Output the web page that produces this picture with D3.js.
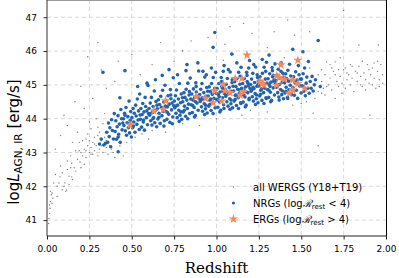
<!DOCTYPE html>
<html>
<head>
<meta charset="utf-8">
<script src="https://cdn.jsdelivr.net/npm/d3@7"></script>
<style>
  body { margin: 0; background: #fff; }
  svg { display: block; }
  .tick text { font-family: "DejaVu Sans", sans-serif; font-size: 9px; fill: #000; }
</style>
</head>
<body>
<svg id="chart" width="399" height="278"></svg>
<script>
// redshift vs log L_AGN,IR  -> [z, logL]
let wergs = [
  [0.01,40.9],[0.012,41.05],[0.015,41.2],[0.018,41.35],[0.02,41.55],[0.025,41.75],[0.02,41.85],[0.03,41.8],[0.015,41.45],[0.035,41.65],
  [0.05,42.35],[0.06,41.7],[0.07,42.1],[0.077,42.28],[0.09,41.9],[0.1,42.0],[0.106,42.1],[0.11,41.85],[0.116,41.89],[0.12,42.5],
  [0.13,42.3],[0.146,42.28],[0.146,42.68],[0.15,42.2],[0.16,42.55],[0.17,42.45],[0.18,42.8],[0.195,42.72],[0.2,42.55],[0.2,43.0],
  [0.21,42.9],[0.22,43.1],[0.23,42.85],[0.24,43.2],[0.25,43.0],[0.25,43.35],[0.26,43.15],[0.27,43.3],[0.28,43.05],[0.28,43.45],
  [0.29,43.2],[0.3,43.5],[0.31,43.1],[0.32,43.35],[0.33,43.0],[0.34,43.45],[0.35,43.15],[0.36,42.95],[0.38,43.1],[0.4,42.85],
  [0.42,43.0],[0.45,42.9],[0.23,43.4],[0.26,42.95],[0.19,43.05],[0.14,42.9],[0.08,42.6],[0.04,42.1],[0.22,42.65],[0.3,42.9],
  [0.05,43.1],[0.08,43.5],[0.1,44.1],[0.12,43.8],[0.165,44.5],[0.2,44.96],[0.24,45.83],[0.3,46.25],[0.32,45.44],[0.15,43.3],
  [0.18,43.6],[0.22,44.3],[0.27,44.6],[0.35,44.9],[0.4,45.1],[0.42,45.7],[0.5,45.9],[0.55,45.3],[0.67,46.25],[0.62,45.6],
  [0.75,45.7],[0.8,46.0],[0.85,46.3],[0.95,46.4],[1.05,46.2],[1.1,45.9],[1.08,46.72],[1.16,46.82],[1.21,46.52],[1.34,46.57],
  [1.42,46.92],[1.46,46.47],[1.55,46.57],[1.04,45.73],[1.27,45.75],[1.3,46.1],[1.4,45.8],[0.6,43.4],[0.7,43.6],[0.9,43.8],
  [1.0,44.0],[1.15,44.1],[1.3,44.2],[1.45,44.4],[1.57,44.16],[1.6,43.2],[1.905,44.1],[1.75,47.2],[1.84,46.18],[1.955,46.18],
  [1.62,45.1],[1.63,44.9],[1.64,45.3],[1.65,45.68],[1.66,45.0],[1.67,45.2],[1.68,44.85],[1.69,45.4],[1.7,45.68],[1.71,45.1],
  [1.72,44.95],[1.73,45.25],[1.74,45.05],[1.75,45.45],[1.76,44.9],[1.77,45.15],[1.78,45.3],[1.79,45.0],[1.8,45.2],[1.81,44.8],
  [1.82,45.4],[1.83,45.1],[1.84,45.55],[1.85,45.25],[1.86,44.95],[1.87,45.35],[1.88,45.15],[1.89,45.6],[1.9,45.05],[1.91,45.3],
  [1.92,45.5],[1.93,45.2],[1.94,44.9],[1.95,45.4],[1.96,45.15],[1.97,45.6],[1.98,45.3],[1.64,44.7],[1.7,44.6],[1.76,45.5],
  [1.86,45.7],[1.92,45.0],[1.68,45.5],[1.74,44.75],[1.8,45.55],[1.88,44.85],[1.95,45.7],[1.62,44.75],[1.58,44.6],[1.55,45.5],
  [0.21,43.35],[0.24,43.55],[0.26,43.7],[0.28,43.25],[0.3,43.75],[0.31,43.6],[0.33,43.85],[0.35,43.35],[0.37,43.2],[0.29,44.0],
  [0.19,43.3],[0.17,43.05],[0.25,43.9],[0.34,44.15],[0.39,43.0],[0.43,43.2],[0.47,43.3],[0.52,43.45],[0.56,43.55],[0.62,43.65],
  [0.12,42.75],[0.09,42.4],[0.06,42.0],[0.13,42.05],[0.03,41.5],[0.14,42.55],[0.23,43.05],[0.27,42.95],[0.32,43.2],[0.36,43.6],
  [1.6,45.3],[1.62,45.45],[1.65,44.95],[1.67,45.6],[1.7,45.3],[1.72,45.45],[1.77,45.35],[1.79,45.6],[1.83,45.35],[1.85,45.0],
  [1.9,45.45],[1.93,45.65],[1.96,44.95],[1.98,45.05],[1.73,45.8],[1.6,44.8],[1.53,44.5],[1.5,44.45],[1.2,44.25],[0.8,43.85]
]

let nrgs = [
  [0.31,43.25],[0.335,43.22],[0.345,43.27],[0.33,45.37],[0.32,43.4],
  [0.352,43.6],[0.358,43.3],[0.363,43.87],[0.367,43.47],[0.371,43.73],[0.376,43.17],[0.381,43.97],[0.386,43.65],[0.392,43.4],[0.397,44.15],
  [0.402,43.62],[0.406,43.94],[0.41,43.39],[0.414,43.76],[0.419,44.09],[0.423,43.54],[0.427,43.84],[0.432,43.3],[0.436,44.27],[0.44,44.0],[0.443,43.67],[0.447,43.87],[0.42,43.46],[0.43,44.62],[0.42,43.02],[0.46,45.42],
  [0.451,44.0],[0.454,43.8],[0.458,44.16],[0.462,43.64],[0.466,44.33],[0.469,43.51],[0.473,43.88],[0.477,44.06],[0.48,43.73],[0.484,44.52],[0.487,43.58],[0.491,43.95],[0.494,44.21],[0.498,43.46],[0.46,44.1],[0.49,43.85],
  [0.501,44.03],[0.505,43.73],[0.508,44.3],[0.512,43.9],[0.515,44.16],[0.519,43.6],[0.523,44.4],[0.526,44.08],[0.53,43.83],[0.533,44.58],[0.537,43.96],[0.54,44.23],[0.544,43.68],[0.547,44.73],[0.549,44.11],[0.51,43.78],[0.535,44.95],
  [0.551,43.98],[0.554,44.3],[0.558,43.75],[0.561,44.12],[0.565,44.45],[0.568,43.9],[0.572,44.2],[0.575,43.66],[0.579,44.63],[0.582,44.36],[0.586,44.03],[0.589,44.23],[0.593,43.82],[0.596,44.98],[0.599,44.15],[0.57,43.96],[0.59,45.05],
  [0.602,44.3],[0.605,44.1],[0.609,44.46],[0.612,43.94],[0.616,44.63],[0.619,43.81],[0.622,44.18],[0.626,44.36],[0.629,44.03],[0.633,44.82],[0.636,43.88],[0.64,44.25],[0.643,44.51],[0.647,43.76],[0.649,44.4],[0.61,44.15],[0.625,44.0],[0.64,45.15],
  [0.651,44.29],[0.654,43.99],[0.657,44.56],[0.661,44.16],[0.664,44.42],[0.668,43.86],[0.671,44.66],[0.675,44.34],[0.678,44.09],[0.682,44.84],[0.685,44.22],[0.689,44.49],[0.692,43.94],[0.696,44.99],[0.699,44.37],[0.66,44.04],[0.68,45.28],[0.69,43.78],
  [0.701,44.21],[0.704,44.53],[0.707,43.98],[0.711,44.35],[0.714,44.68],[0.718,44.13],[0.721,44.43],[0.725,43.89],[0.728,44.86],[0.731,44.59],[0.735,44.26],[0.738,44.46],[0.742,44.05],[0.745,45.21],[0.748,44.38],[0.71,44.19],[0.72,45.45],[0.74,43.85],[0.73,44.7],
  [0.751,44.52],[0.754,44.32],[0.758,44.68],[0.761,44.16],[0.764,44.85],[0.768,44.03],[0.771,44.4],[0.775,44.58],[0.778,44.25],[0.781,45.04],[0.785,44.1],[0.788,44.47],[0.792,44.73],[0.795,43.98],[0.799,44.62],[0.76,44.37],[0.77,45.3],[0.79,44.2],[0.78,43.92],
  [0.801,44.5],[0.804,44.2],[0.808,44.77],[0.811,44.37],[0.814,44.63],[0.818,44.07],[0.821,44.87],[0.825,44.55],[0.828,44.3],[0.831,45.05],[0.835,44.43],[0.838,44.7],[0.842,44.15],[0.845,45.2],[0.848,44.58],[0.81,44.25],[0.82,45.42],[0.83,44.0],[0.84,44.8],[0.826,45.6],
  [0.851,44.41],[0.854,44.73],[0.857,44.18],[0.861,44.55],[0.864,44.88],[0.868,44.33],[0.871,44.63],[0.875,44.09],[0.878,45.06],[0.881,44.79],[0.885,44.46],[0.888,44.66],[0.892,44.25],[0.895,45.41],[0.898,44.58],[0.86,44.39],[0.87,44.05],[0.88,44.95],[0.89,45.65],[0.876,44.5],
  [0.901,44.71],[0.904,44.51],[0.907,44.87],[0.911,44.35],[0.914,45.04],[0.918,44.22],[0.921,44.59],[0.925,44.77],[0.928,44.44],[0.931,45.23],[0.935,44.29],[0.938,44.66],[0.942,44.92],[0.945,44.17],[0.948,44.81],[0.91,44.56],[0.92,45.4],[0.93,44.12],[0.94,45.3],[0.916,44.62],[0.936,44.4],
  [0.951,44.67],[0.954,44.37],[0.957,44.94],[0.961,44.54],[0.964,44.8],[0.968,44.24],[0.971,45.04],[0.975,44.72],[0.978,44.47],[0.981,45.22],[0.985,44.6],[0.988,44.87],[0.992,44.32],[0.995,45.37],[0.998,44.75],[0.96,44.42],[0.97,45.5],[0.98,44.15],[0.99,44.9],[0.966,44.58],[0.98,46.11],[0.99,46.55],
  [1.001,44.57],[1.004,44.89],[1.008,44.34],[1.011,44.71],[1.014,45.04],[1.018,44.49],[1.021,44.79],[1.025,44.25],[1.028,45.22],[1.031,44.95],[1.035,44.62],[1.038,44.82],[1.042,44.41],[1.045,45.57],[1.048,44.74],[1.01,44.55],[1.02,44.2],[1.03,45.1],[1.04,45.4],[1.016,44.65],[1.036,44.9],[1.044,44.3],
  [1.051,44.86],[1.054,44.66],[1.057,45.02],[1.061,44.5],[1.064,45.19],[1.068,44.37],[1.071,44.74],[1.075,44.92],[1.078,44.59],[1.081,45.38],[1.085,44.44],[1.088,44.81],[1.092,45.07],[1.095,44.32],[1.098,44.96],[1.06,44.71],[1.07,45.45],[1.08,44.28],[1.09,45.91],[1.066,44.78],[1.086,44.55],[1.093,45.15],
  [1.101,44.82],[1.104,44.52],[1.107,45.09],[1.111,44.69],[1.114,44.95],[1.118,44.39],[1.121,45.19],[1.125,44.87],[1.128,44.62],[1.131,45.37],[1.135,44.75],[1.138,45.02],[1.142,44.47],[1.145,45.52],[1.148,44.9],[1.11,44.57],[1.12,45.65],[1.13,44.3],[1.14,45.25],[1.116,44.7],[1.136,44.85],[1.144,44.45],
  [1.151,44.72],[1.154,45.04],[1.157,44.49],[1.161,44.86],[1.164,45.19],[1.168,44.64],[1.171,44.94],[1.175,44.4],[1.178,45.37],[1.181,45.1],[1.185,44.77],[1.188,44.97],[1.192,44.56],[1.195,45.72],[1.198,44.89],[1.16,44.7],[1.17,44.35],[1.18,45.28],[1.19,45.5],[1.166,44.8],[1.186,45.05],[1.193,44.6],
  [1.201,45.01],[1.204,44.81],[1.207,45.17],[1.211,44.65],[1.214,45.34],[1.218,44.52],[1.221,44.89],[1.225,45.07],[1.228,44.74],[1.231,45.53],[1.235,44.59],[1.238,44.96],[1.242,45.22],[1.245,44.47],[1.248,45.11],[1.21,44.86],[1.22,45.6],[1.23,44.42],[1.24,45.3],[1.216,44.93],[1.236,44.7],[1.244,45.0],
  [1.251,44.97],[1.254,44.67],[1.257,45.24],[1.261,44.84],[1.264,45.1],[1.268,44.54],[1.271,45.34],[1.275,45.02],[1.278,44.77],[1.281,45.52],[1.285,44.9],[1.288,45.17],[1.292,44.62],[1.295,45.67],[1.298,45.05],[1.26,44.72],[1.27,45.75],[1.28,44.45],[1.29,45.4],[1.266,44.88],[1.31,45.88],[1.294,44.6],
  [1.301,44.86],[1.304,45.18],[1.308,44.63],[1.311,45.0],[1.314,45.33],[1.318,44.78],[1.321,45.08],[1.325,44.54],[1.328,45.51],[1.331,45.24],[1.335,44.91],[1.338,45.11],[1.342,44.7],[1.345,45.62],[1.348,45.03],[1.31,44.84],[1.32,44.5],[1.33,45.42],[1.34,45.15],[1.316,44.95],[1.336,45.28],
  [1.351,45.13],[1.354,44.93],[1.357,45.29],[1.361,44.77],[1.364,45.46],[1.368,44.64],[1.371,45.01],[1.375,45.19],[1.378,44.86],[1.381,45.65],[1.385,44.71],[1.388,45.08],[1.392,45.34],[1.395,44.59],[1.398,45.23],[1.36,44.98],[1.37,44.55],[1.38,45.4],[1.39,44.82],
  [1.401,45.06],[1.404,44.76],[1.408,45.33],[1.411,44.93],[1.414,45.19],[1.418,44.63],[1.421,45.43],[1.425,45.11],[1.428,44.86],[1.431,45.61],[1.435,44.99],[1.438,45.26],[1.442,44.71],[1.45,46.05],[1.448,45.14],[1.41,44.81],[1.42,44.6],
  [1.451,44.92],[1.455,45.24],[1.459,44.69],[1.463,45.06],[1.467,45.39],[1.471,44.84],[1.475,45.14],[1.479,44.6],[1.483,45.57],[1.487,45.3],[1.491,44.97],[1.495,45.17],[1.499,44.76],[1.51,45.98],
  [1.502,45.17],[1.506,44.97],[1.511,45.33],[1.515,44.81],[1.52,45.5],[1.524,44.68],[1.529,45.05],[1.533,45.23],[1.538,44.9],[1.542,45.69],[1.547,44.75],
  [1.553,45.1],[1.558,44.9],[1.564,45.25],[1.57,44.82],[1.577,45.0],[1.584,45.15],[1.6,46.31],[1.612,44.95]
]

let ergs = [
  [0.49,43.81],[0.63,44.23],[0.70,44.53],[0.686,44.27],[0.88,44.65],[0.936,44.6],[0.98,44.47],[0.99,44.83],
  [1.03,44.52],[1.04,45.02],[1.05,44.82],[1.08,44.77],[1.11,45.19],[1.15,45.19],[1.16,44.8],[1.14,44.7],
  [1.18,45.88],[1.27,45.04],[1.28,44.99],[1.355,45.26],[1.37,45.22],[1.355,44.99],[1.38,45.59],[1.40,45.16],
  [1.43,44.75],[1.45,45.14],[1.45,44.85],[1.48,45.04],[1.48,45.73],[1.52,44.9],[1.26,45.09]
]

let xTicks = [0, 0.25, 0.5, 0.75, 1.0, 1.25, 1.5, 1.75, 2.0]
let yTicks = [41, 42, 43, 44, 45, 46, 47]
let legendLabels = ['all WERGS (Y18+T19)', 'NRGs', 'ERGs']

let svg = d3.select('#chart')

let x = d3.scaleLinear().domain([0, 2]).range([47, 386])
let y = d3.scaleLinear().domain([40.53, 47.51]).range([236, 0])

// grid
svg.append('g').selectAll('line')
    .data(xTicks.slice(1, -1))
    .enter().append('line')
    .attr('x1', d => x(d)).attr('x2', d => x(d))
    .attr('y1', 0).attr('y2', 236)
    .attr('stroke', '#d4d4d4').attr('stroke-width', 0.9)
    .attr('stroke-dasharray', '4,3')
svg.append('g').selectAll('line')
    .data(yTicks)
    .enter().append('line')
    .attr('x1', 47).attr('x2', 386)
    .attr('y1', d => y(d)).attr('y2', d => y(d))
    .attr('stroke', '#d4d4d4').attr('stroke-width', 0.9)
    .attr('stroke-dasharray', '4,3')

// points
svg.append('g').selectAll('circle')
    .data(wergs)
    .enter().append('circle')
    .attr('cx', d => x(d[0])).attr('cy', d => y(d[1]))
    .attr('r', 0.7)
    .attr('fill', '#7a7a7a')

svg.append('g').selectAll('circle')
    .data(nrgs)
    .enter().append('circle')
    .attr('cx', d => x(d[0])).attr('cy', d => y(d[1]))
    .attr('r', 1.8)
    .attr('fill', '#2263ad')

let star = d3.symbol().type(d3.symbolStar).size(28)
svg.append('g').selectAll('path')
    .data(ergs)
    .enter().append('path')
    .attr('d', star)
    .attr('transform', d => `translate(${x(d[0])},${y(d[1])})`)
    .attr('fill', '#f3895f')

// axes
let xAxis = svg.append('g')
    .attr('transform', 'translate(0,236)')
    .call(d3.axisBottom(x).tickValues(xTicks).tickFormat(d3.format('.2f')).tickSizeOuter(0).tickSize(3.5))
let yAxis = svg.append('g')
    .attr('transform', 'translate(47,0)')
    .call(d3.axisLeft(y).tickValues(yTicks).tickFormat(d3.format('d')).tickSizeOuter(0).tickSize(3.5))
xAxis.select('.domain').remove()
yAxis.select('.domain').remove()
xAxis.selectAll('.tick line').attr('stroke', '#222')
yAxis.selectAll('.tick line').attr('stroke', '#222')
xAxis.selectAll('.tick text').attr('y', 10)
yAxis.selectAll('.tick text').attr('x', -10)

// frame
svg.append('line').attr('x1', 47).attr('x2', 386).attr('y1', 0.5).attr('y2', 0.5).attr('stroke', '#999')
svg.append('line').attr('x1', 47).attr('x2', 387).attr('y1', 236).attr('y2', 236).attr('stroke', '#222')
svg.append('line').attr('x1', 47).attr('x2', 47).attr('y1', 0).attr('y2', 236).attr('stroke', '#333')
svg.append('line').attr('x1', 386.5).attr('x2', 386.5).attr('y1', 0).attr('y2', 236).attr('stroke', '#000')

// axis labels
svg.append('text')
    .attr('x', 216.5).attr('y', 273)
    .attr('text-anchor', 'middle')
    .attr('font-family', 'DejaVu Serif, serif')
    .attr('font-size', 15)
    .text('Redshift')

let yl = svg.append('text')
    .attr('transform', 'translate(19,142) rotate(-90)')
    .attr('text-anchor', 'middle')
    .attr('font-family', 'DejaVu Sans, sans-serif')
    .attr('font-size', 15)
yl.append('tspan').text('log')
yl.append('tspan').attr('font-style', 'italic').text('L')
yl.append('tspan').attr('font-size', 10.5).attr('dy', 3).text('AGN, IR')
yl.append('tspan').attr('dy', -3).text(' [erg/s]')

// legend
let legend = svg.append('g').attr('font-family', 'DejaVu Sans, sans-serif').attr('font-size', 10)
let rows = [187, 203, 219]
legend.append('circle').attr('cx', x(1.1)).attr('cy', rows[0]).attr('r', 0.7).attr('fill', '#7a7a7a')
legend.append('circle').attr('cx', x(1.1)).attr('cy', rows[1]).attr('r', 1.6).attr('fill', '#2263ad')
legend.append('path').attr('d', star).attr('transform', `translate(${x(1.1)},${rows[2]})`).attr('fill', '#f3895f')

legend.append('text').attr('x', 253).attr('y', rows[0] + 3.5).text(legendLabels[0])

let t1 = legend.append('text').attr('x', 253).attr('y', rows[1] + 3.5)
t1.append('tspan').text(legendLabels[1] + ' (log')
t1.append('tspan').attr('font-family', 'DejaVu Serif, serif').attr('font-style', 'italic').text('\u211B')
t1.append('tspan').attr('font-size', 7).attr('dy', 2).text('rest')
t1.append('tspan').attr('dy', -2).text(' < 4)')

let t2 = legend.append('text').attr('x', 253).attr('y', rows[2] + 3.5)
t2.append('tspan').text(legendLabels[2] + ' (log')
t2.append('tspan').attr('font-family', 'DejaVu Serif, serif').attr('font-style', 'italic').text('\u211B')
t2.append('tspan').attr('font-size', 7).attr('dy', 2).text('rest')
t2.append('tspan').attr('dy', -2).text(' > 4)')
</script>
</body>
</html>
